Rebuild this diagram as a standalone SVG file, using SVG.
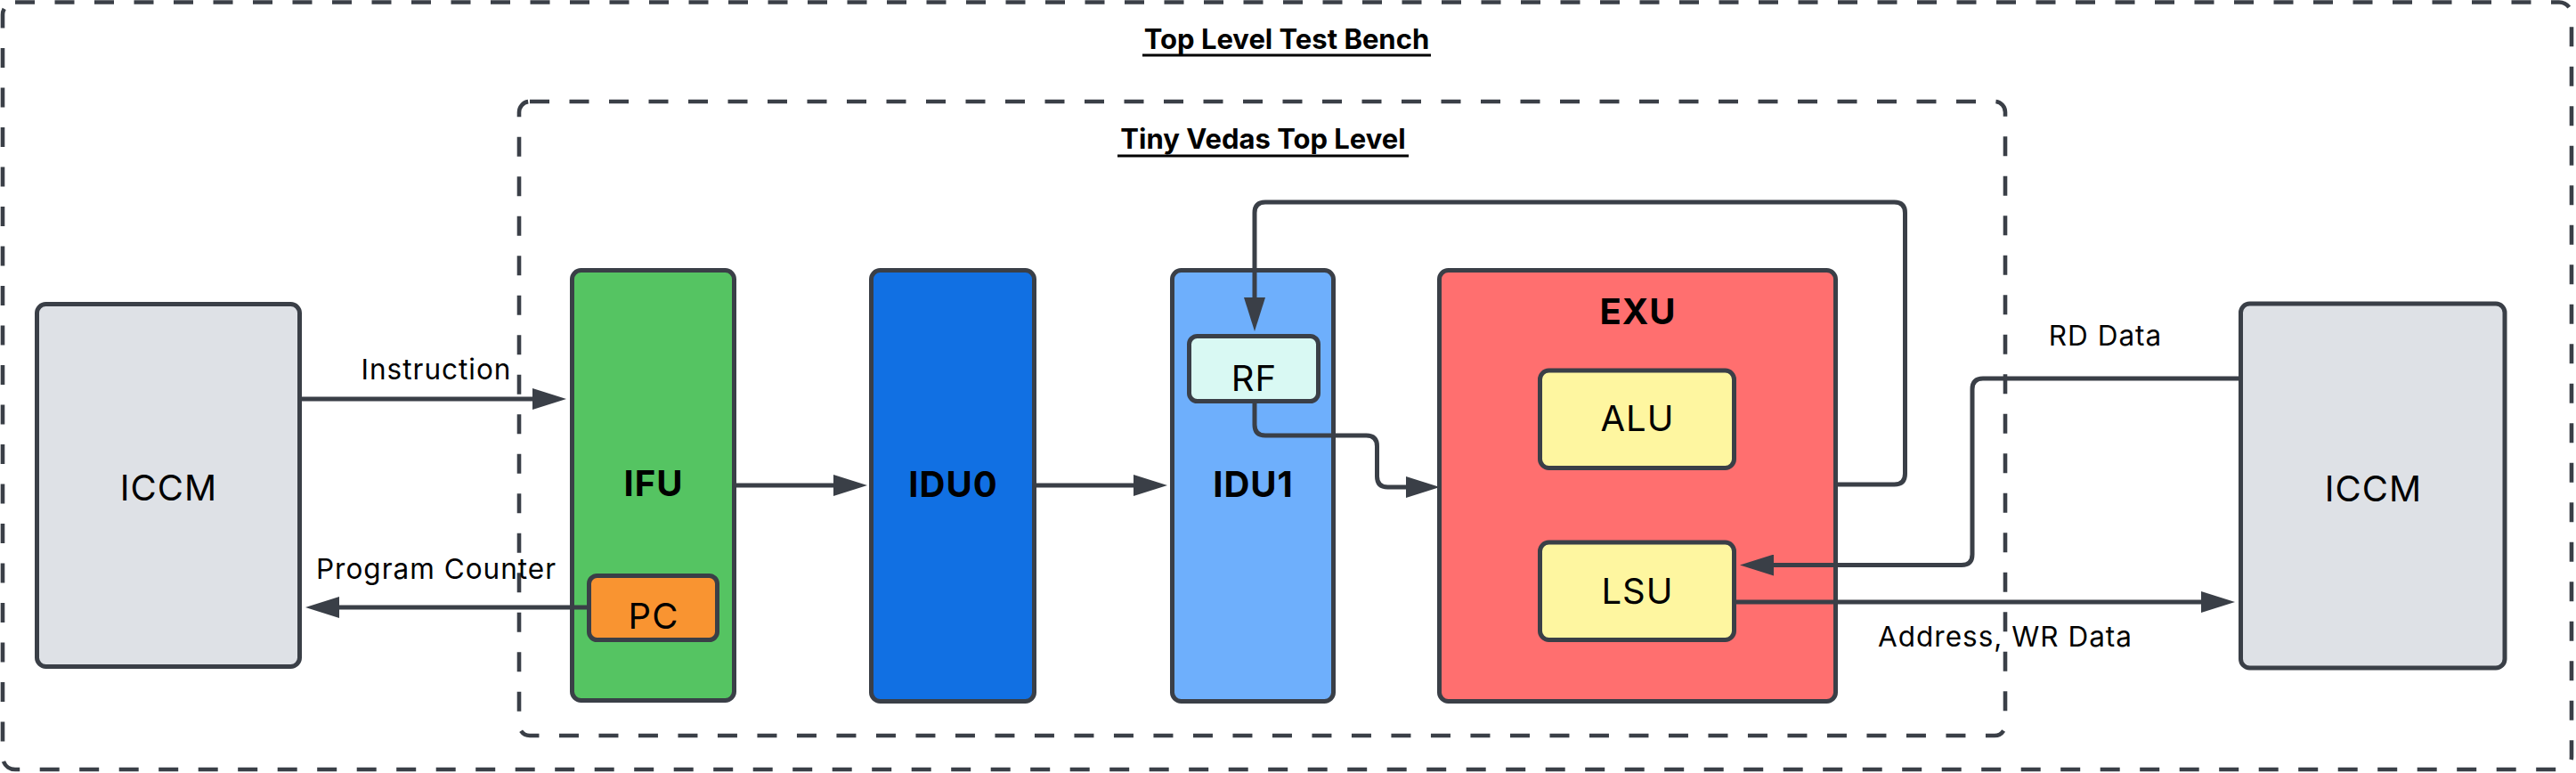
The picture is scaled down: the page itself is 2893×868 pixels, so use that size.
<svg xmlns="http://www.w3.org/2000/svg" width="2893" height="868" viewBox="0 0 2893 868">
<style>
.frame{fill:none;stroke:#3a3f47;stroke-width:4.6;stroke-dasharray:22 22.5}
.node{stroke:#3a3f47;stroke-width:5}
.conn{fill:none;stroke:#3a3f47;stroke-width:5}
.t{font-family:Inter,"Liberation Sans",sans-serif;fill:#000;text-anchor:middle}
.lbl{font-size:31.5px;letter-spacing:1px}
.nt{font-size:40px;letter-spacing:1px}
.b{font-weight:bold}
.ttl{font-size:31px;font-weight:bold}
.ul{stroke:#000;stroke-width:3}
</style>
<defs>
<marker id="ah" viewBox="0 0 38 24" refX="28" refY="12" markerWidth="38" markerHeight="24" markerUnits="userSpaceOnUse" orient="auto">
<path d="M0,0 L38,12 L0,24 Z" fill="#3a3f47"/>
</marker>
</defs>
<rect width="2893" height="868" fill="#fff"/>
<g id="top-level-test-bench">
<rect class="frame" x="3" y="2.5" width="2885" height="861.5" rx="14"/>
<text class="t ttl" x="1445" y="55">Top Level Test Bench</text>
<line class="ul" x1="1283" y1="62" x2="1607" y2="62"/>
</g>
<g id="tiny-vedas-top-level">
<rect class="frame" x="583" y="114" width="1669" height="712" rx="12"/>
<text class="t ttl" x="1418.5" y="167">Tiny Vedas Top Level</text>
<line class="ul" x1="1255" y1="175" x2="1582" y2="175"/>
</g>
<g id="iccm-left">
<rect class="node" x="41.5" y="341.5" width="295" height="407" rx="10" fill="#dee1e6"/>
<text class="t nt" x="189.5" y="562">ICCM</text>
</g>
<g id="ifu">
<rect class="node" x="642.5" y="303.5" width="182" height="483" rx="10" fill="#55c462"/>
<text class="t nt b" x="734" y="557">IFU</text>
</g>
<g id="pc">
<rect class="node" x="661.5" y="646.5" width="144" height="72" rx="9" fill="#f99431"/>
<text class="t nt" x="734" y="706">PC</text>
</g>
<g id="idu0">
<rect class="node" x="978.5" y="303.5" width="183" height="484" rx="10" fill="#1170e3"/>
<text class="t nt b" x="1070.5" y="557.5">IDU0</text>
</g>
<g id="idu1">
<rect class="node" x="1316.5" y="303.5" width="181" height="484" rx="10" fill="#6eaffc"/>
<text class="t nt b" x="1407.5" y="557.5">IDU1</text>
</g>
<g id="rf">
<rect class="node" x="1335.5" y="377.5" width="145" height="73" rx="9" fill="#d9f9f3"/>
<text class="t nt" x="1408.5" y="439">RF</text>
</g>
<g id="exu">
<rect class="node" x="1616.5" y="303.5" width="445" height="484" rx="10" fill="#ff6f6f"/>
<text class="t nt b" x="1839.5" y="364">EXU</text>
</g>
<g id="alu">
<rect class="node" x="1729.5" y="416" width="218" height="109.5" rx="10" fill="#fef6a0"/>
<text class="t nt" x="1839" y="484">ALU</text>
</g>
<g id="lsu">
<rect class="node" x="1729.5" y="609" width="218" height="109.5" rx="10" fill="#fef6a0"/>
<text class="t nt" x="1839" y="678">LSU</text>
</g>
<g id="iccm-right">
<rect class="node" x="2516.5" y="341" width="296.5" height="409" rx="10" fill="#dee1e6"/>
<text class="t nt" x="2665.5" y="563">ICCM</text>
</g>
<g id="connectors">
<path class="conn" d="M339,448 H626" marker-end="url(#ah)"/>
<path class="conn" d="M659,682 H353" marker-end="url(#ah)"/>
<path class="conn" d="M827,545 H964" marker-end="url(#ah)"/>
<path class="conn" d="M1164,545 H1301" marker-end="url(#ah)"/>
<path class="conn" d="M1409,453 V477 Q1409,489 1421,489 H1534.5 Q1546.5,489 1546.5,501 V535 Q1546.5,547 1558.5,547 H1607" marker-end="url(#ah)"/>
<path class="conn" d="M2064,544 H2127.5 Q2139.5,544 2139.5,532 V239 Q2139.5,227 2127.5,227 H1421 Q1409,227 1409,239 V362" marker-end="url(#ah)"/>
<path class="conn" d="M2514,425 H2227 Q2215,425 2215,437 V622.5 Q2215,634.5 2203,634.5 H1964" marker-end="url(#ah)"/>
<path class="conn" d="M1950,676 H2500" marker-end="url(#ah)"/>
<text class="t lbl" x="490" y="426">Instruction</text>
<text class="t lbl" x="490" y="650">Program Counter</text>
<text class="t lbl" x="2364.5" y="388">RD Data</text>
<text class="t lbl" x="2252" y="726">Address, WR Data</text>
</g>
</svg>
